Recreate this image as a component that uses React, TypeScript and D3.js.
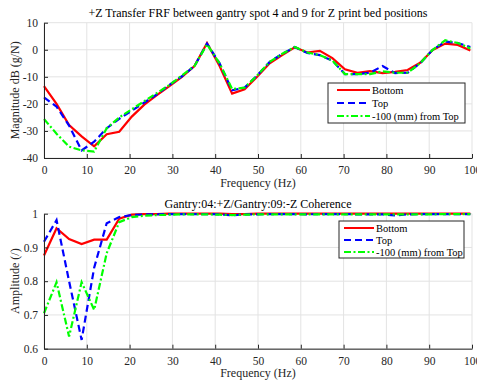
import { FC, useEffect, useRef } from 'react';
import * as d3 from 'd3';

// frequency bins (Hz)
const freq = [0, 2.93, 5.86, 8.79, 11.72, 14.65, 17.58, 20.51, 23.44, 26.37, 29.3, 32.23, 35.16, 38.09, 41.02, 43.95, 46.88, 49.8, 52.73, 55.66, 58.59, 61.52, 64.45, 67.38, 70.31, 73.24, 76.17, 79.1, 82.03, 84.96, 87.89, 90.82, 93.75, 96.68, 99.61];

// FRF magnitude (dB)
const frfBottom = [-13.4, -20, -27.8, -32, -35.7, -31.2, -30.3, -24.7, -20.3, -16.8, -13.4, -10, -6, 2.5, -6, -16.2, -14.6, -10, -5, -2, 0.9, -1, -0.4, -3.1, -7.2, -8.5, -7.9, -8.6, -8.2, -7.5, -4.8, -0.1, 2.3, 1.8, -0.3];
const frfTop = [-17.6, -21, -28, -37.2, -34, -29, -25.5, -22.5, -19.5, -16.5, -13, -9.8, -6, 2.3, -5, -15, -14, -9.5, -4.5, -1.5, 1, -1.2, -2, -4, -9, -9, -8.5, -6, -8.6, -8.5, -5, 0, 3, 2.5, 1];
const frfMinus100 = [-25.6, -31, -35.8, -37.2, -37.6, -29, -25, -22, -19, -16, -13, -9.5, -6, 2, -5, -14.5, -14, -9.5, -4.5, -1.5, 1, -1, -2, -4, -9, -9, -9, -8, -8.5, -8.5, -5, 0, 3.5, 2.5, 0.5];

// coherence
const cohBottom = [0.876, 0.957, 0.925, 0.91, 0.923, 0.923, 0.985, 0.997, 0.999, 0.999, 1, 1, 1, 1, 1, 0.999, 0.999, 1, 1, 1, 1, 1, 1, 1, 1, 1, 1, 1, 1, 1, 1, 1, 1, 1, 1];
const cohTop = [0.917, 0.981, 0.8, 0.626, 0.84, 0.972, 0.99, 0.996, 0.998, 0.998, 0.999, 0.999, 0.999, 0.999, 0.998, 0.995, 0.998, 0.998, 0.999, 0.999, 0.999, 0.998, 0.999, 0.999, 0.999, 0.998, 0.998, 0.998, 0.995, 0.998, 0.999, 0.999, 0.999, 0.999, 0.999];
const cohMinus100 = [0.705, 0.797, 0.636, 0.797, 0.715, 0.883, 0.975, 0.99, 0.994, 0.996, 0.997, 0.998, 0.998, 0.998, 0.997, 0.996, 0.997, 0.998, 0.998, 0.998, 0.998, 0.998, 0.998, 0.998, 0.998, 0.998, 0.998, 0.998, 0.998, 0.998, 0.998, 0.998, 0.999, 0.999, 0.999];

const legendLabels = ['Bottom', 'Top', '-100 (mm) from Top'];
const xTicks = [0, 10, 20, 30, 40, 50, 60, 70, 80, 90, 100];
const frfTicks = [10, 0, -10, -20, -30, -40];
const cohTicks = [1, 0.9, 0.8, 0.7, 0.6];

const styles = [
  { color: '#ff0000', dash: null },
  { color: '#0000ff', dash: '7,4' },
  { color: '#00ff00', dash: '7,2.5,2,2.5' },
];

const FONT = '"Liberation Serif", "DejaVu Serif", serif';
const W = 477;
const H = 381;

const App: FC = () => {
  const svgRef = useRef<SVGSVGElement | null>(null);

  useEffect(() => {
    if (!svgRef.current) return;
    const svg = d3.select(svgRef.current);
    svg.selectAll('*').remove();

    const x = d3.scaleLinear().domain([0, 100]).range([44, 472]);

    const panels = [
      {
        top: 22.7, bottom: 158, domain: [-40, 10], ticks: frfTicks,
        fmt: (d: number) => String(d),
        series: [frfBottom, frfTop, frfMinus100],
        title: '+Z Transfer FRF between gantry spot 4 and 9 for Z print bed positions',
        titleY: 17, ylabel: 'Magnitude dB (g/N)', labelY: 187,
        legend: { x: 328, y: 83, w: 137, h: 40, lx0: 337, lx1: 370, tx: 372, rows: [90, 103, 116] },
      },
      {
        top: 213.7, bottom: 348.7, domain: [0.6, 1], ticks: cohTicks,
        fmt: (d: number) => (d === 1 ? '1' : d.toFixed(1)),
        series: [cohBottom, cohTop, cohMinus100],
        title: 'Gantry:04:+Z/Gantry:09:-Z Coherence',
        titleY: 208, ylabel: 'Amplitude (/)', labelY: 377,
        legend: { x: 339, y: 221, w: 125, h: 37, lx0: 344, lx1: 374, tx: 376, rows: [228, 240, 252] },
      },
    ];

    panels.forEach(p => {
      const y = d3.scaleLinear().domain(p.domain).range([p.bottom, p.top]);
      const g = svg.append('g');

      // grid
      g.selectAll('line.gx').data(xTicks).enter().append('line')
        .attr('x1', d => x(d)).attr('x2', d => x(d))
        .attr('y1', p.top).attr('y2', p.bottom)
        .attr('stroke', '#e3e3e3').attr('stroke-width', 1);
      g.selectAll('line.gy').data(p.ticks).enter().append('line')
        .attr('x1', x(0)).attr('x2', x(100))
        .attr('y1', d => y(d)).attr('y2', d => y(d))
        .attr('stroke', '#e3e3e3').attr('stroke-width', 1);

      // data lines
      const line = d3.line<number>()
        .x((_, i) => x(freq[i]))
        .y(d => y(d));
      p.series.forEach((s, i) => {
        g.append('path')
          .datum(s)
          .attr('fill', 'none')
          .attr('stroke', styles[i].color)
          .attr('stroke-width', 2.2)
          .attr('stroke-dasharray', styles[i].dash)
          .attr('d', line);
      });

      // axes
      const xAxis = g.append('g')
        .attr('transform', `translate(0,${p.bottom})`)
        .call(d3.axisBottom(x).tickValues(xTicks).tickSizeInner(-4).tickSizeOuter(0).tickPadding(8));
      const yAxis = g.append('g')
        .attr('transform', `translate(${x(0)},0)`)
        .call(d3.axisLeft(y).tickValues(p.ticks).tickFormat(p.fmt as any).tickSizeInner(-4).tickSizeOuter(0).tickPadding(6));
      [xAxis, yAxis].forEach(a => {
        a.select('.domain').attr('stroke', '#262626');
        a.selectAll('line').attr('stroke', '#262626');
        a.selectAll('text').attr('font-family', FONT).attr('font-size', 11.5).attr('fill', '#262626');
      });

      // title and labels
      g.append('text')
        .attr('x', (x(0) + x(100)) / 2).attr('y', p.titleY)
        .attr('text-anchor', 'middle').attr('font-family', FONT).attr('font-size', 12)
        .attr('fill', '#000').text(p.title);
      g.append('text')
        .attr('x', (x(0) + x(100)) / 2).attr('y', p.labelY)
        .attr('text-anchor', 'middle').attr('font-family', FONT).attr('font-size', 12)
        .attr('fill', '#262626').text('Frequency (Hz)');
      g.append('text')
        .attr('transform', `translate(19,${(p.top + p.bottom) / 2}) rotate(-90)`)
        .attr('text-anchor', 'middle').attr('font-family', FONT).attr('font-size', 12)
        .attr('fill', '#262626').text(p.ylabel);

      // legend
      const L = p.legend;
      g.append('rect')
        .attr('x', L.x).attr('y', L.y).attr('width', L.w).attr('height', L.h)
        .attr('fill', '#fff').attr('stroke', '#262626').attr('stroke-width', 1);
      legendLabels.forEach((lab, i) => {
        g.append('line')
          .attr('x1', L.lx0).attr('x2', L.lx1)
          .attr('y1', L.rows[i]).attr('y2', L.rows[i])
          .attr('stroke', styles[i].color).attr('stroke-width', 2)
          .attr('stroke-dasharray', styles[i].dash);
        g.append('text')
          .attr('x', L.tx).attr('y', L.rows[i]).attr('dy', '0.35em')
          .attr('font-family', FONT).attr('font-size', 10.5).attr('fill', '#000')
          .text(lab);
      });
    });
  }, []);

  return (
    <svg
      ref={svgRef}
      width={W}
      height={H}
      style={{ position: 'absolute', left: 0, top: 0, background: '#fff' }}
    />
  );
};

export default App;
